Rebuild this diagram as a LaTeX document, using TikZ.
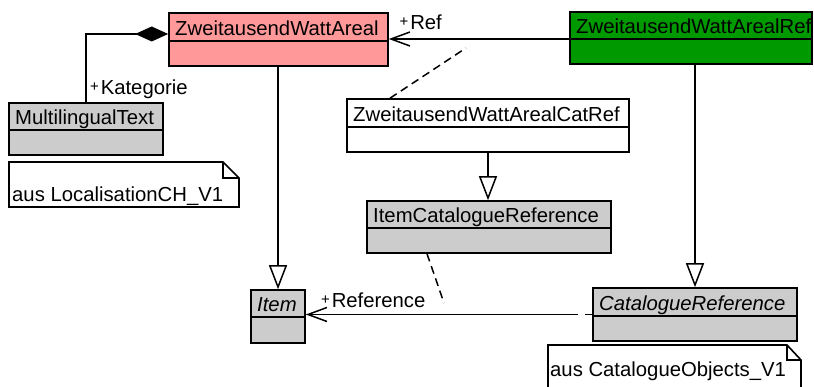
\documentclass[tikz,border=0pt]{standalone}
\usepackage{fontspec}
\setmainfont{Liberation Sans}
\usetikzlibrary{arrows.meta}

\definecolor{arealpink}{RGB}{255,153,153}
\definecolor{refgreen}{RGB}{0,153,0}
\definecolor{extgray}{RGB}{204,204,204}

\newcommand\umlfont{\fontsize{20.3}{24}\selectfont}
\newcommand\umlplus{\raisebox{3.5pt}{\fontsize{15}{15}\selectfont+}\kern1.8pt}

\tikzset{
  classbox/.style={rectangle, draw=black, line width=1.6pt, inner sep=0pt},
  classline/.style={line width=1.6pt},
  classname/.style={inner sep=0pt, anchor=base west, font=\umlfont},
  assoc/.style={line width=1.5pt},
  gentip/.style={-{Triangle[length=24pt,width=18pt,fill=white,line width=1.5pt]}},
  navtip/.style={-{Straight Barb[length=19pt,width=14pt,line width=1.5pt]}},
  comptip/.style={-{Diamond[length=33pt,width=15pt,fill=black]}},
  linkdash/.style={line width=1.5pt, dash pattern=on 8pt off 5pt},
  notebox/.style={draw=black, line width=1.6pt, line join=miter},
  notetext/.style={inner sep=0pt, anchor=base west, font=\umlfont},
  rolelabel/.style={inner sep=0pt, anchor=base west, font=\umlfont},
}

% class with a name compartment and an empty attribute compartment
% #1 name, #2 fill, #3 left, #4 top, #5 right, #6 separator, #7 bottom, #8 label
\newcommand\umlclass[8]{%
  \node[classbox, fill=#2, minimum width={#5-#3}, minimum height={#7-#4}]
    (#1) at ({(#3+#5)/2},{(#4+#7)/2}) {};
  \draw[classline] (#3,#6) -- (#5,#6);
  \node[classname] (#1-name) at (#3+6,#6-5) {#8};
}

\begin{document}
\begin{tikzpicture}[x=1pt,y=-1pt]
\useasboundingbox (0,0) rectangle (814,387);
\clip (0,0) rectangle (814,387);

% classes
\umlclass{zwa}{arealpink}{169}{13}{388}{41}{66}{ZweitausendWattAreal}
\umlclass{zwar}{refgreen}{570}{12}{812}{39}{64}{ZweitausendWattArealRef}
\umlclass{multi}{extgray}{9}{103}{163}{130}{155}{MultilingualText}
\umlclass{catref}{white}{347}{99}{629}{127}{152}{ZweitausendWattArealCatRef}
\umlclass{icr}{extgray}{367}{201}{611}{228}{253}{ItemCatalogueReference}
\umlclass{item}{extgray}{251}{290}{305}{317}{343}{\textit{Item}}
\umlclass{cref}{extgray}{593}{288}{797}{316}{341}{\textit{CatalogueReference}}

% notes
\draw[notebox, fill=white] (9,162) -- (223,162) -- (239,178) -- (239,207) -- (9,207) -- cycle;
\draw[notebox] (223,162) -- (223,178) -- (239,178);
\node[notetext] (note-loc) at (12,202) {aus LocalisationCH\_V1};

\draw[notebox, fill=white] (548,345) -- (787,345) -- (801,360) -- (801,400) -- (548,400) -- cycle;
\draw[notebox] (787,345) -- (787,360) -- (801,360);
\node[notetext] (note-cat) at (550,376) {aus CatalogueObjects\_V1};

% composition
\draw[assoc, comptip] (multi.north) |- (zwa.west |- 0,34);
\node[rolelabel] (kat-label) at (90,95) {\umlplus Kategorie};

% navigable associations
\draw[assoc, navtip] (zwar.west |- 0,39) -- (zwa.east |- 0,39);
\node[rolelabel] (ref-label) at (399.5,30) {\umlplus Ref};

\draw[assoc, navtip] (cref.west) -- (cref.west -| item.east);
\draw[white, line width=3pt] (578,314.5) -- (585,314.5);
\node[rolelabel] (reference-label) at (321,308) {\umlplus Reference};

% generalizations
\draw[assoc, gentip] (zwa.south -| item.north) -- (item.north);
\draw[assoc, gentip] (catref.south) -- (catref.south |- icr.north);
\draw[assoc, gentip] (cref.north |- zwar.south) -- (cref.north);

% association class links
\coordinate (refassoc) at (466,48);
\draw[linkdash] (390,0 |- catref.north) -- (refassoc);
\coordinate (referenceassoc) at (444,303);
\draw[linkdash] (427,0 |- icr.south) -- (referenceassoc);
\end{tikzpicture}
\end{document}
